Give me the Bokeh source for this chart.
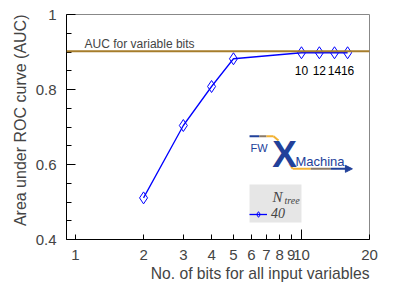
from bokeh.plotting import figure
from bokeh.models import (Range1d, FixedTicker, Span, Label, Title, Legend,
                          LegendItem, Arrow, NormalHead, ColumnDataSource,
                          BoxAnnotation)
from bokeh.embed import file_html
from bokeh.resources import INLINE
from bokeh.core.properties import value

# ---- data ----
bits = [2, 3, 4, 5, 10, 12, 14, 16]
auc = [0.511, 0.704, 0.808, 0.882, 0.898, 0.898, 0.898, 0.898]
point_labels = ["", "", "", "", "10", "12", "14", "16"]
auc_variable_bits = 0.902
x_ticks = [1, 2, 3, 4, 5, 6, 7, 8, 9, 10, 20]
x_tick_labels = ["1", "2", "3", "4", "5", "6", "7", "8", "9", "10", "20"]
x_long_ticks = [10]
y_ticks = [0.4, 0.6, 0.8, 1.0]
y_tick_labels = ["0.4", "0.6", "0.8", "1"]
y_minor_ticks = [0.45, 0.5, 0.55, 0.65, 0.7, 0.75, 0.85, 0.9, 0.95]
legend_label = "40"
legend_title_main = "N"
legend_title_sub = "tree"
line_label = "AUC for variable bits"
x_title = "No. of bits for all input variables"
y_title = "Area under ROC curve (AUC)"

FONT = "Liberation Sans"
SERIF = "Liberation Serif"
BLUE = "#0000ff"
BROWN = "#a67d2b"
NAVY = "#22419a"
ORANGE = "#f2b233"

p = figure(width=411, height=283, x_axis_type="log",
           x_range=Range1d(0.912, 20), y_range=Range1d(0.4, 1.0),
           output_backend="svg", toolbar_location=None,
           min_border_left=66, min_border_right=42,
           min_border_top=14, min_border_bottom=44)
p.grid.visible = False
p.outline_line_color = "#888888"
p.background_fill_color = "white"

# axes
xa = p.xaxis[0]
xa.ticker = FixedTicker(ticks=x_ticks, minor_ticks=x_long_ticks)
xa.major_label_overrides = dict(zip(x_ticks, x_tick_labels))
xa.major_tick_in = 5
xa.major_tick_out = 0
xa.minor_tick_in = 10
xa.minor_tick_out = 0
xa.major_label_standoff = 10
xa.major_label_text_font = FONT
xa.major_label_text_font_size = "15px"
xa.axis_line_color = "black"

ya = p.yaxis[0]
ya.ticker = FixedTicker(ticks=y_ticks, minor_ticks=y_minor_ticks)
ya.major_label_overrides = dict(zip(y_ticks, y_tick_labels))
ya.major_tick_in = 9
ya.major_tick_out = 0
ya.minor_tick_in = 5
ya.minor_tick_out = 0
ya.major_label_standoff = 10
ya.major_label_text_font = FONT
ya.major_label_text_font_size = "15px"
ya.axis_line_color = "black"

# titles
p.add_layout(Title(text=x_title, align="right", text_font=FONT,
                   text_font_size="15.7px", text_font_style="normal",
                   standoff=0), "below")
p.add_layout(Title(text=y_title, align="right", text_font=FONT,
                   text_font_size="16px", text_font_style="normal",
                   standoff=7), "left")

# legend background box
p.add_layout(BoxAnnotation(left=5.89, right=10.0, bottom=0.4453, top=0.5467,
                           fill_color="#e6e6e6", fill_alpha=1,
                           line_color=None, level="underlay"))

# reference line
p.add_layout(Span(location=auc_variable_bits, dimension="width",
                  line_color=BROWN, line_width=2))
p.add_layout(Label(x=1.096, y=0.9025, text=line_label, text_font=FONT,
                   text_font_size="12px"))

src = ColumnDataSource(dict(x=bits, y=auc, lab=point_labels))
lr = p.line("x", "y", source=src, line_color=BLUE, line_width=1.3)
sr = p.scatter("x", "y", source=src, marker="diamond", size=12,
               line_color=BLUE, fill_alpha=0, line_width=1)
p.text("x", "y", text="lab", source=src, text_font=value(FONT),
       text_font_size="12px", text_align="center", text_baseline="middle",
       y_offset=18)

# legend
leg = Legend(items=[LegendItem(label=legend_label, renderers=[lr, sr])],
             location=(183, 17), background_fill_alpha=0,
             border_line_color=None, padding=2,
             spacing=0, label_text_font=SERIF, label_text_font_style="italic",
             label_text_font_size="14px", glyph_width=18, glyph_height=14,
             label_standoff=4, label_width=25)
p.add_layout(leg)
p.add_layout(Label(x=7.44, y=0.4907, text=legend_title_main, text_font=SERIF,
                   text_font_style="italic", text_font_size="15px"))
p.add_layout(Label(x=8.41, y=0.4893, text=legend_title_sub, text_font=SERIF,
                   text_font_style="italic", text_font_size="10px"))

# logo
p.segment(x0=[5.89, 6.5, 7.0, 7.52], y0=[0.6755, 0.6755, 0.6755, 0.6755],
          x1=[6.5, 7.0, 7.52, 7.91], y1=[0.6755, 0.6755, 0.6755, 0.664],
          line_color=[NAVY, "#8a7a68", ORANGE, ORANGE], line_width=2)
p.segment(x0=[8.84, 9.14, 11.0, 13.5], y0=[0.603, 0.5885, 0.5885, 0.5885],
          x1=[9.14, 11.0, 13.5, 16.3], y1=[0.5885, 0.5885, 0.5885, 0.5885],
          line_color=[ORANGE, ORANGE, "#8a7a68", NAVY], line_width=2)
p.add_layout(Arrow(end=NormalHead(size=7, fill_color=NAVY, line_color=NAVY),
                   x_start=16.0, y_start=0.5885, x_end=16.8, y_end=0.5885,
                   line_color=NAVY, line_width=2))
p.add_layout(Label(x=5.95, y=0.6267, text="FW", text_font=FONT,
                   text_font_size="11px", text_color=NAVY))
p.add_layout(Label(x=8.41, y=0.5733, text="X", text_font=FONT,
                   text_font_style="bold", text_font_size="37px",
                   text_color=NAVY, text_align="center"))
p.add_layout(Label(x=9.40, y=0.5893, text="Machina", text_font=FONT,
                   text_font_size="13px", text_color=NAVY))

open("out.html", "w").write(file_html(p, INLINE))
